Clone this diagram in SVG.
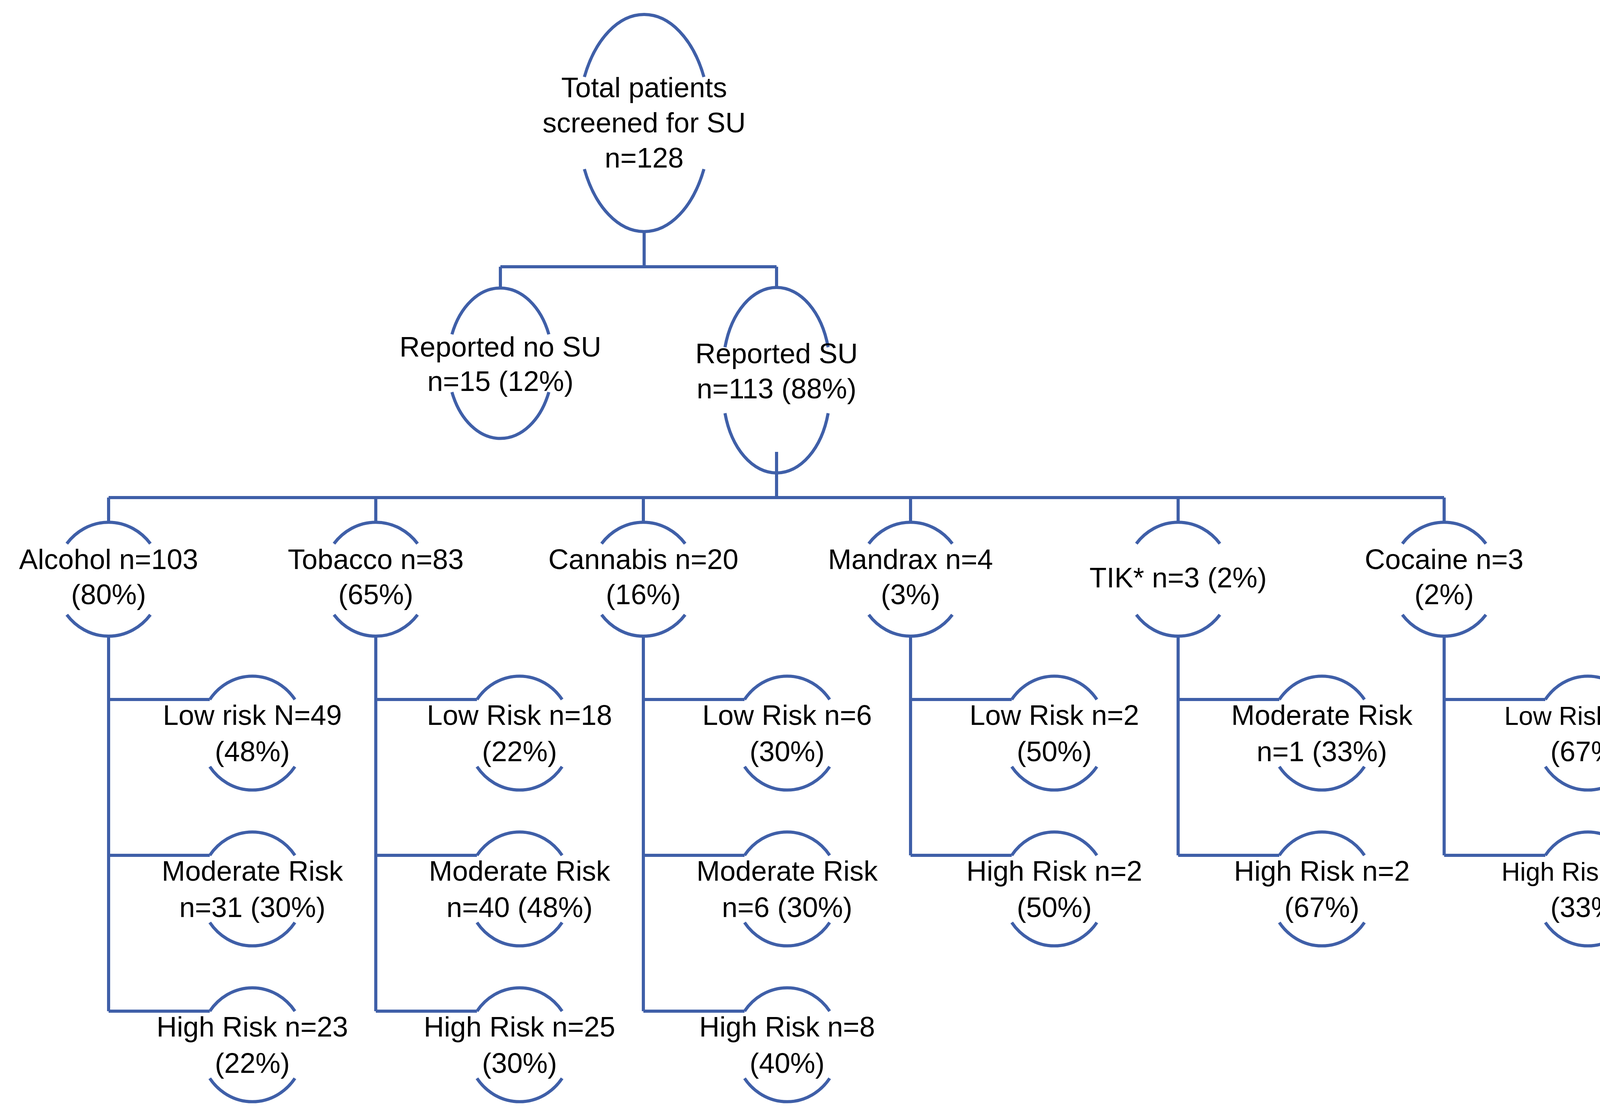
<svg xmlns="http://www.w3.org/2000/svg" width="4310" height="2860" viewBox="0 0 4310 2860">
<style>
.n{fill:none;stroke:#3F5FA8;stroke-width:8}
.c{fill:none;stroke:#3F5FA8;stroke-width:8}
text{font-family:"Liberation Sans",Arial,sans-serif;font-size:72px;fill:#000;text-anchor:middle}
.s{font-size:66px}
</style>
<rect width="4310" height="2860" fill="#fff"/>
<g id="connectors">
<path class="c" d="M1649 593V683M1281 683H1988M1281 683V738M1988 683V738"/>
<path class="c" d="M1988 1157V1274M278 1274H3697M278 1274V1337M962 1274V1337M1647 1274V1337M2331 1274V1337M3016 1274V1337M3697 1274V1337"/>
<path class="c" d="M278 1629V2589M278 1791H537M278 2190H537M278 2589H537"/>
<path class="c" d="M962 1629V2589M962 1791H1221M962 2190H1221M962 2589H1221"/>
<path class="c" d="M1647 1629V2589M1647 1791H1906M1647 2190H1906M1647 2589H1906"/>
<path class="c" d="M2331 1629V2190M2331 1791H2590M2331 2190H2590"/>
<path class="c" d="M3016 1629V2190M3016 1791H3275M3016 2190H3275"/>
<path class="c" d="M3697 1629V2190M3697 1791H3956M3697 2190H3956"/>
</g>
<g id="total">
<path class="n" d="M1496 197A169 278 0 0 1 1802 197M1496 433A169 278 0 0 0 1802 433"/>
<text x="1649" y="249">Total patients</text><text x="1649" y="339">screened for SU</text><text x="1649" y="429">n=128</text>
</g>
<g id="nosu">
<path class="n" d="M1157 856A134 191 0 0 1 1405 856M1157 1004A134 191 0 0 0 1405 1004"/>
<text x="1281" y="913">Reported no SU</text><text x="1281" y="1001">n=15 (12%)</text>
</g>
<g id="su">
<path class="n" d="M1856 889A137 209 0 0 1 2120 889M1856 1058A137 209 0 0 0 2120 1058"/>
<text x="1988" y="930">Reported SU</text><text x="1988" y="1020">n=113 (88%)</text>
</g>
<g id="alcohol">
<path class="n" d="M171 1392A137 146 0 0 1 385 1392M171 1574A137 146 0 0 0 385 1574"/>
<text x="278" y="1457">Alcohol n=103</text><text x="278" y="1547">(80%)</text>
</g>
<g id="tobacco">
<path class="n" d="M855 1392A137 146 0 0 1 1069 1392M855 1574A137 146 0 0 0 1069 1574"/>
<text x="962" y="1457">Tobacco n=83</text><text x="962" y="1547">(65%)</text>
</g>
<g id="cannabis">
<path class="n" d="M1540 1392A137 146 0 0 1 1754 1392M1540 1574A137 146 0 0 0 1754 1574"/>
<text x="1647" y="1457">Cannabis n=20</text><text x="1647" y="1547">(16%)</text>
</g>
<g id="mandrax">
<path class="n" d="M2224 1392A137 146 0 0 1 2438 1392M2224 1574A137 146 0 0 0 2438 1574"/>
<text x="2331" y="1457">Mandrax n=4</text><text x="2331" y="1547">(3%)</text>
</g>
<g id="tik">
<path class="n" d="M2909 1392A137 146 0 0 1 3123 1392M2909 1574A137 146 0 0 0 3123 1574"/>
<text x="3016" y="1504">TIK* n=3 (2%)</text>
</g>
<g id="cocaine">
<path class="n" d="M3590 1392A137 146 0 0 1 3804 1392M3590 1574A137 146 0 0 0 3804 1574"/>
<text x="3697" y="1457">Cocaine n=3</text><text x="3697" y="1547">(2%)</text>
</g>
<defs>
<path id="leaf" class="n" d="M-109 -86A135 146 0 0 1 109 -86M-109 86A135 146 0 0 0 109 86"/>
</defs>
<g id="alc-low"><use href="#leaf" x="646" y="1877"/><text x="646" y="1856">Low risk N=49</text><text x="646" y="1949">(48%)</text></g>
<g id="alc-mod"><use href="#leaf" x="646" y="2276"/><text x="646" y="2255">Moderate Risk</text><text x="646" y="2348">n=31 (30%)</text></g>
<g id="alc-high"><use href="#leaf" x="646" y="2675"/><text x="646" y="2654">High Risk n=23</text><text x="646" y="2747">(22%)</text></g>
<g id="tob-low"><use href="#leaf" x="1330" y="1877"/><text x="1330" y="1856">Low Risk n=18</text><text x="1330" y="1949">(22%)</text></g>
<g id="tob-mod"><use href="#leaf" x="1330" y="2276"/><text x="1330" y="2255">Moderate Risk</text><text x="1330" y="2348">n=40 (48%)</text></g>
<g id="tob-high"><use href="#leaf" x="1330" y="2675"/><text x="1330" y="2654">High Risk n=25</text><text x="1330" y="2747">(30%)</text></g>
<g id="can-low"><use href="#leaf" x="2015" y="1877"/><text x="2015" y="1856">Low Risk n=6</text><text x="2015" y="1949">(30%)</text></g>
<g id="can-mod"><use href="#leaf" x="2015" y="2276"/><text x="2015" y="2255">Moderate Risk</text><text x="2015" y="2348">n=6 (30%)</text></g>
<g id="can-high"><use href="#leaf" x="2015" y="2675"/><text x="2015" y="2654">High Risk n=8</text><text x="2015" y="2747">(40%)</text></g>
<g id="man-low"><use href="#leaf" x="2699" y="1877"/><text x="2699" y="1856">Low Risk n=2</text><text x="2699" y="1949">(50%)</text></g>
<g id="man-high"><use href="#leaf" x="2699" y="2276"/><text x="2699" y="2255">High Risk n=2</text><text x="2699" y="2348">(50%)</text></g>
<g id="tik-mod"><use href="#leaf" x="3384" y="1877"/><text x="3384" y="1856">Moderate Risk</text><text x="3384" y="1949">n=1 (33%)</text></g>
<g id="tik-high"><use href="#leaf" x="3384" y="2276"/><text x="3384" y="2255">High Risk n=2</text><text x="3384" y="2348">(67%)</text></g>
<g id="coc-low"><use href="#leaf" x="4065" y="1877"/><text class="s" x="4050" y="1856">Low Risk n=2</text><text x="4065" y="1949">(67%)</text></g>
<g id="coc-high"><use href="#leaf" x="4065" y="2276"/><text class="s" x="4050" y="2255">High Risk n=1</text><text x="4065" y="2348">(33%)</text></g>
</svg>
